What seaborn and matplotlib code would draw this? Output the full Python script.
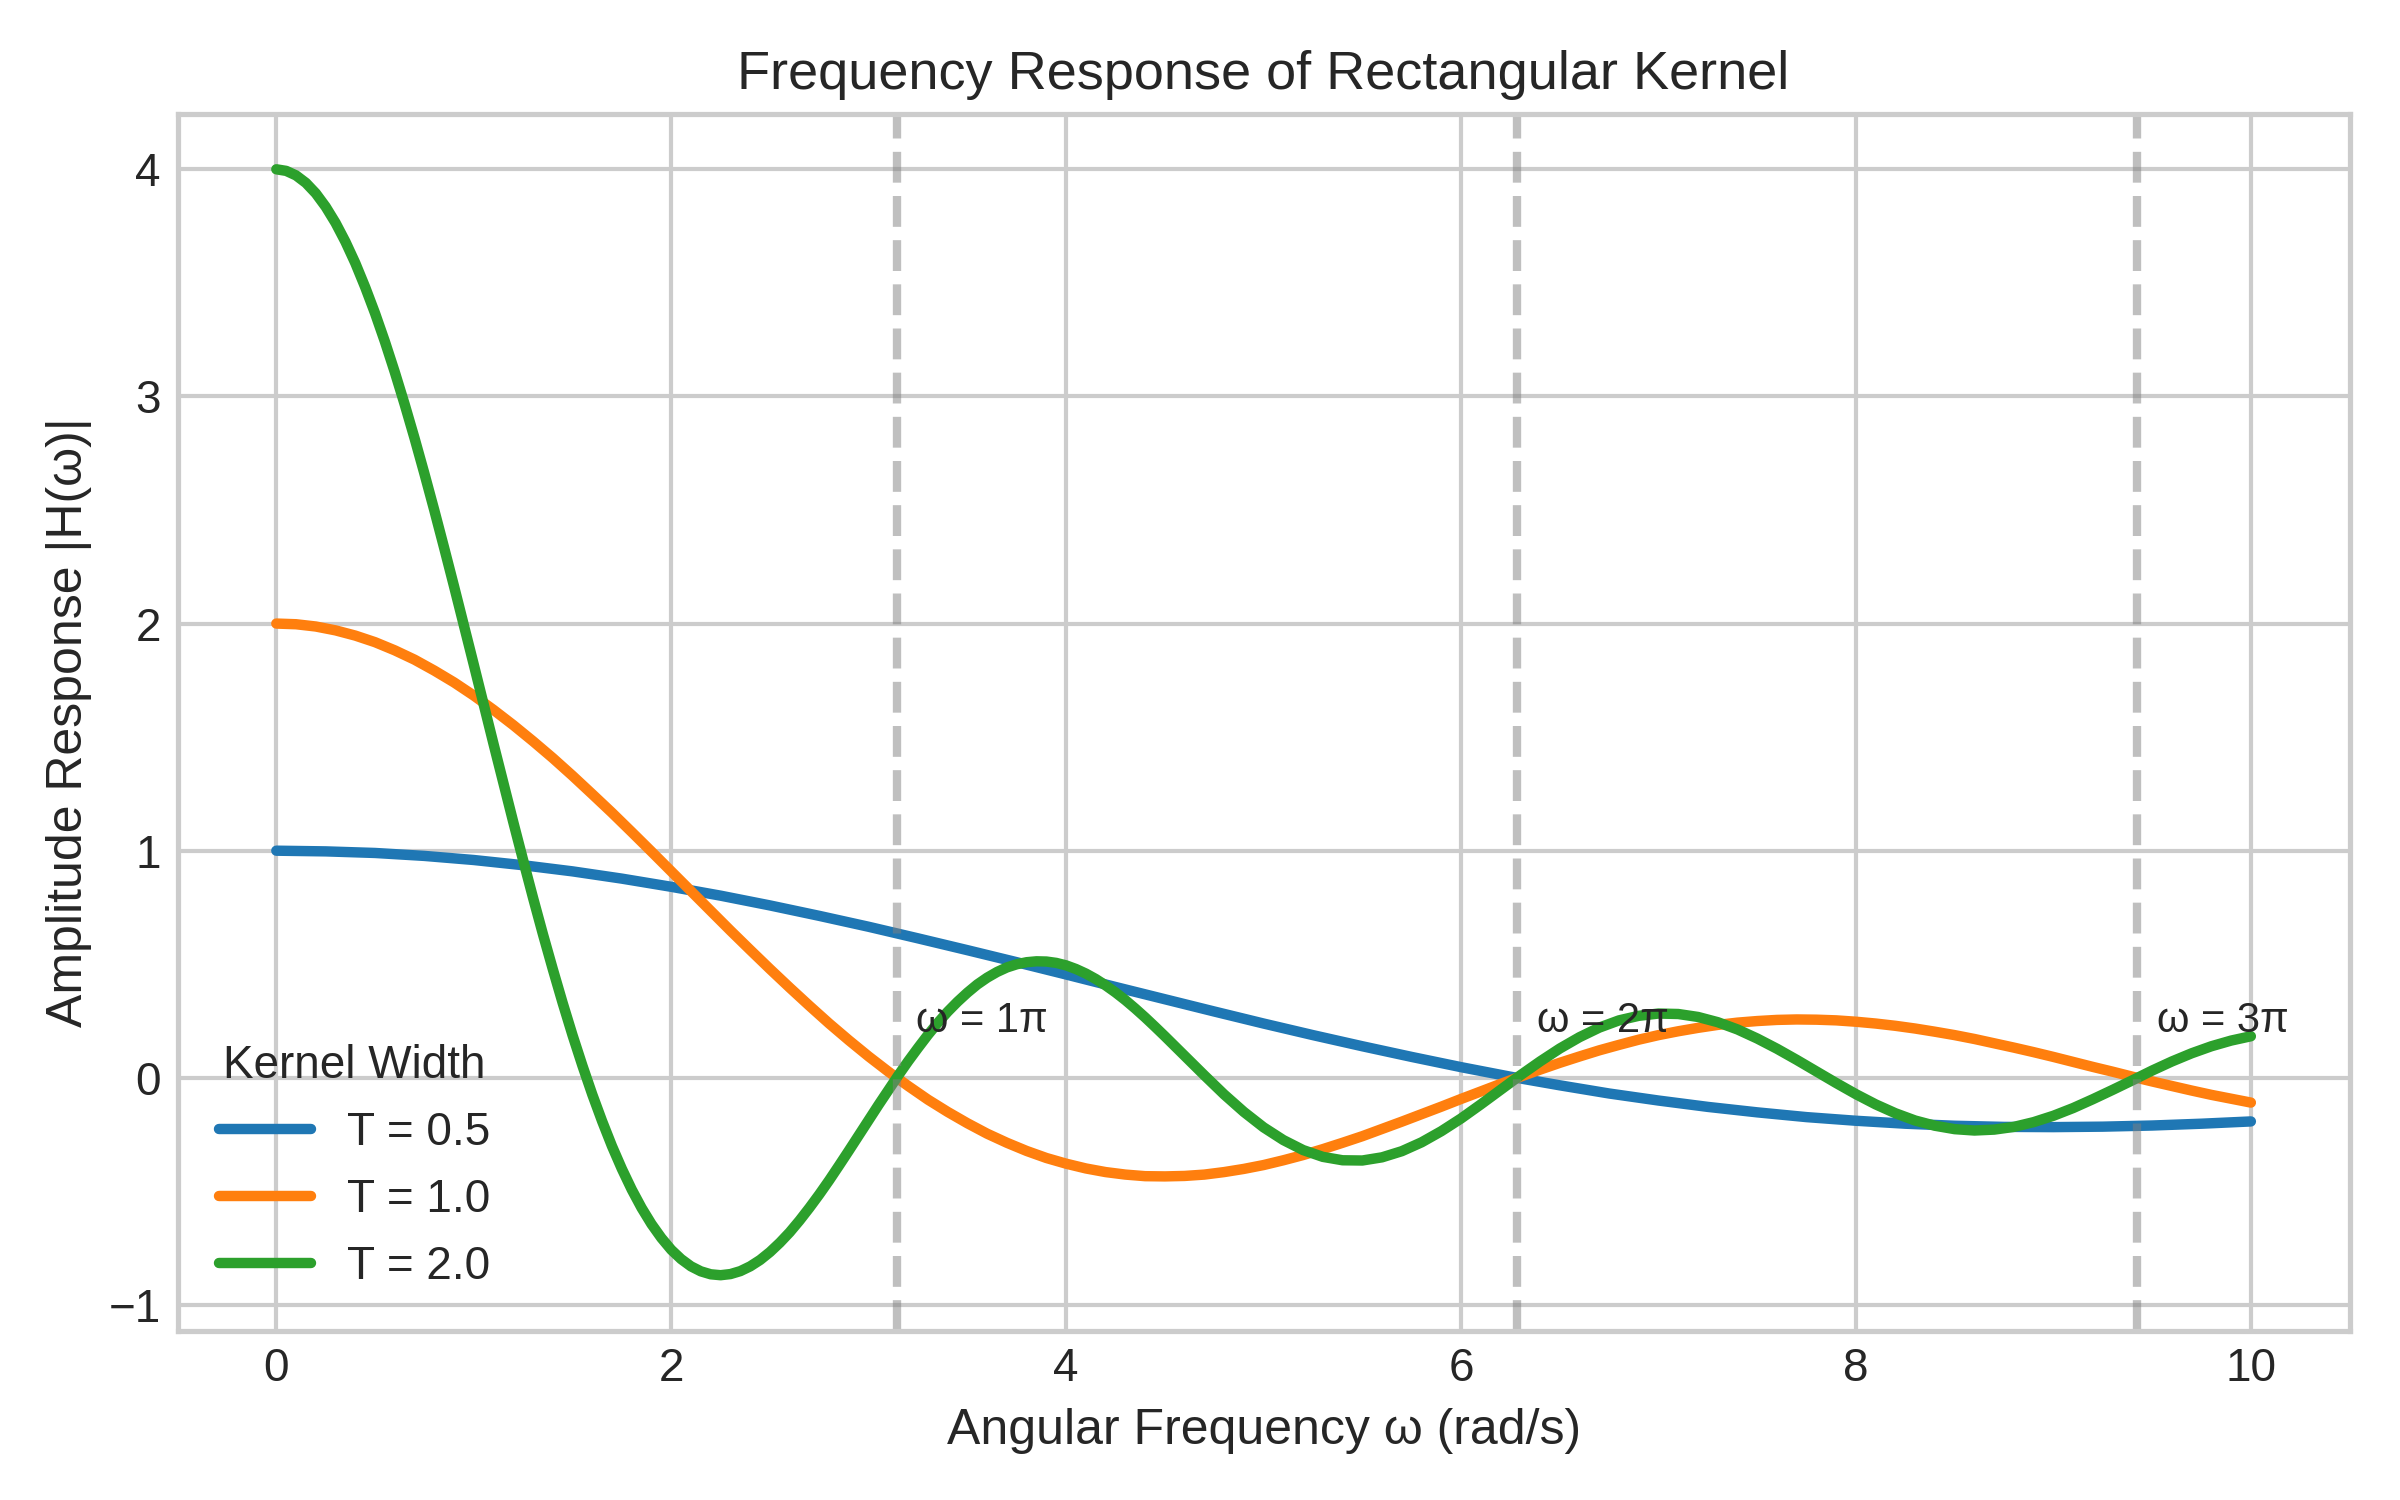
import numpy as np
import pandas as pd
import matplotlib
matplotlib.use("Agg")
import matplotlib.pyplot as plt
import seaborn as sns

# values, per kernel width
omega_05 = np.round(np.arange(41) * 0.25, 2)
h_05 = [1.000, 0.997, 0.990, 0.977, 0.959, 0.936, 0.909, 0.877, 0.841, 0.802,
        0.759, 0.713, 0.665, 0.614, 0.562, 0.509, 0.455, 0.400, 0.346, 0.292,
        0.239, 0.188, 0.139, 0.092, 0.047, 0.005, -0.033, -0.069, -0.100, -0.128,
        -0.152, -0.173, -0.189, -0.202, -0.211, -0.216, -0.217, -0.215, -0.210, -0.202,
        -0.192]

omega_10 = np.round(np.arange(101) * 0.1, 2)
h_10 = [2.000, 1.997, 1.987, 1.970, 1.947, 1.918, 1.882, 1.841, 1.793, 1.741,
        1.683, 1.620, 1.553, 1.482, 1.408, 1.330, 1.249, 1.167, 1.082, 0.996,
        0.909, 0.822, 0.735, 0.648, 0.563, 0.479, 0.397, 0.317, 0.239, 0.165,
        0.094, 0.027, -0.036, -0.096, -0.150, -0.200, -0.246, -0.286, -0.322, -0.353,
        -0.378, -0.399, -0.415, -0.426, -0.433, -0.434, -0.432, -0.426, -0.415, -0.401,
        -0.384, -0.363, -0.340, -0.314, -0.286, -0.257, -0.225, -0.193, -0.160, -0.127,
        -0.093, -0.060, -0.027, 0.005, 0.036, 0.066, 0.094, 0.121, 0.145, 0.168,
        0.188, 0.205, 0.220, 0.233, 0.243, 0.250, 0.255, 0.257, 0.256, 0.253,
        0.247, 0.239, 0.229, 0.217, 0.203, 0.188, 0.171, 0.152, 0.133, 0.113,
        0.092, 0.070, 0.048, 0.027, 0.005, -0.016, -0.036, -0.056, -0.075, -0.092,
        -0.109]

# finer readings where the T = 2.0 curve bends hardest
omega_20 = np.round(np.r_[np.arange(90) * 0.05, 4.5 + np.arange(56) * 0.1], 2)
h_20 = [4.000, 3.993, 3.973, 3.940, 3.894, 3.835, 3.764, 3.681, 3.587, 3.481,
        3.366, 3.241, 3.107, 2.965, 2.816, 2.660, 2.499, 2.333, 2.164, 1.992,
        1.819, 1.644, 1.470, 1.297, 1.126, 0.958, 0.793, 0.633, 0.479, 0.330,
        0.188, 0.054, -0.073, -0.191, -0.301, -0.401, -0.492, -0.573, -0.644, -0.705,
        -0.757, -0.798, -0.830, -0.852, -0.865, -0.869, -0.864, -0.851, -0.830, -0.802,
        -0.767, -0.726, -0.680, -0.628, -0.572, -0.513, -0.451, -0.386, -0.320, -0.253,
        -0.186, -0.119, -0.054, 0.011, 0.073, 0.132, 0.189, 0.242, 0.291, 0.335,
        0.375, 0.411, 0.441, 0.466, 0.486, 0.500, 0.509, 0.513, 0.512, 0.506,
        0.495, 0.479, 0.459, 0.435, 0.407, 0.376, 0.342, 0.305, 0.266, 0.225,
        0.183, 0.097, 0.011, -0.073, -0.150,
        -0.218, -0.274, -0.318, -0.348, -0.363, -0.364, -0.350, -0.323, -0.284, -0.235,
        -0.179, -0.117, -0.053, 0.011, 0.072, 0.129, 0.179, 0.221, 0.253, 0.273,
        0.283, 0.281, 0.268, 0.245, 0.213, 0.173, 0.128, 0.079, 0.028, -0.023,
        -0.072, -0.117, -0.156, -0.188, -0.211, -0.226, -0.232, -0.228, -0.216, -0.195,
        -0.167, -0.133, -0.094, -0.053, -0.011, 0.032, 0.072, 0.108, 0.139, 0.164,
        0.183]

widths = ["T = 0.5", "T = 1.0", "T = 2.0"]
zero_marks = [np.pi, 2 * np.pi, 3 * np.pi]
zero_labels = ["ω = 1π", "ω = 2π", "ω = 3π"]

df = pd.concat([
    pd.DataFrame({"omega": omega_05, "H": h_05, "T": widths[0]}),
    pd.DataFrame({"omega": omega_10, "H": h_10, "T": widths[1]}),
    pd.DataFrame({"omega": omega_20, "H": h_20, "T": widths[2]}),
])

sns.set_theme(style="whitegrid")
plt.rcParams["font.family"] = ["Liberation Sans", "DejaVu Sans"]

fig, ax = plt.subplots(figsize=(8, 5), dpi=300)
sns.lineplot(data=df, x="omega", y="H", hue="T", estimator=None, sort=False,
             palette=["#1f77b4", "#ff7f0e", "#2ca02c"], linewidth=2.5, ax=ax)

for w, lab in zip(zero_marks, zero_labels):
    ax.axvline(w, color="gray", linestyle="--", linewidth=2, alpha=0.5)
    ax.text(w + 0.1, 0.2, lab, fontsize=10)

ax.set_title("Frequency Response of Rectangular Kernel", fontsize=13)
ax.set_xlabel("Angular Frequency ω (rad/s)", fontsize=12)
ax.set_ylabel("Amplitude Response |H(ω)|", fontsize=12)
ax.tick_params(labelsize=11, length=0, pad=4)
ax.legend(title="Kernel Width", loc="lower left", fontsize=11, title_fontsize=11,
          frameon=False)

fig.subplots_adjust(left=0.074, right=0.979, bottom=0.113, top=0.924)
plt.savefig("out.png")
